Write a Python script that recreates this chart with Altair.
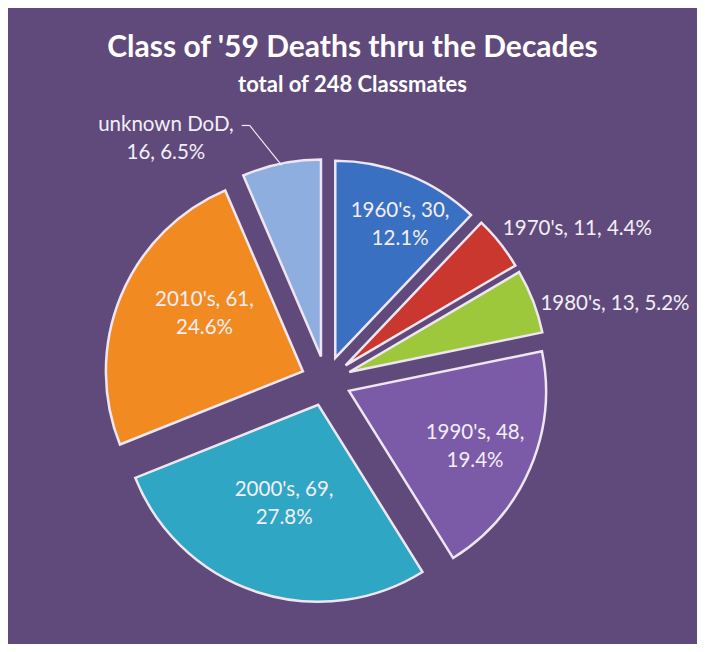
import altair as alt
import pandas as pd

# ---- data ----
categories = ["1960's", "1970's", "1980's", "1990's", "2000's", "2010's", "unknown DoD"]
counts = [30, 11, 13, 48, 69, 61, 16]
colors = ["#3a70c2", "#c9372f", "#9ec83c", "#7b5aa8", "#2ea6c4", "#f28a22", "#8eaee0"]

# ---- label layout (offsets from each exploded slice centre) ----
label_r = [148, 208, 203, 138, 105, 114, 267]
label_dtheta = [4.2, -2.4, 1.35, 0.8, 0.8, 7.8, -23.9]
label_align = ["center", "left", "left", "center", "center", "center", "center"]
label_break = ["num", "none", "none", "num", "num", "num", "cat"]

W, H = 689, 636
PAD_TOP = 25
CX, CY = 318, 285   # pie centre inside the plot area
R = 197
EXPLODE = 25
LINE_H = 28
BG = "#5f4a7b"
TXT = "#f4eef7"
FONT = "Lato"

df = pd.DataFrame({
    "cat": categories,
    "n": counts,
    "order": list(range(len(categories))),
    "color": colors,
    "lr": label_r,
    "ldt": label_dtheta,
    "align": label_align,
    "brk": label_break,
})

base = (
    alt.Chart(df)
    .transform_joinaggregate(total="sum(n)")
    .transform_window(cum="sum(n)", sort=[alt.SortField("order")], frame=[None, 0])
    .transform_calculate(
        a0="2*PI*(datum.cum-datum.n)/datum.total",
        a1="2*PI*datum.cum/datum.total",
    )
    .transform_calculate(mid="(datum.a0+datum.a1)/2")
    .transform_calculate(
        ox=f"{CX}+{EXPLODE}*sin(datum.mid)",
        oy=f"{CY}-{EXPLODE}*cos(datum.mid)",
    )
)

arcs = base.mark_arc(outerRadius=R, stroke="#efe6f2", strokeWidth=2.5).encode(
    x=alt.X("ox:Q", scale=None),
    y=alt.Y("oy:Q", scale=None),
    theta=alt.Theta("a0:Q", scale=None),
    theta2="a1:Q",
    color=alt.Color("color:N", scale=None),
)

lab = (
    base.transform_calculate(
        la="datum.mid + datum.ldt*PI/180",
        pct="format(datum.n/datum.total, '.1%')",
        nl="datum.brk == 'none' ? 1 : 2",
    )
    .transform_calculate(
        lx="datum.ox + datum.lr*sin(datum.la)",
        ly=f"datum.oy - datum.lr*cos(datum.la) - (datum.nl-1)*{LINE_H}/2",
        txt=(
            "datum.brk == 'num' ? datum.cat + ', ' + datum.n + ',\\n' + datum.pct : "
            "datum.brk == 'cat' ? datum.cat + ',\\n' + datum.n + ', ' + datum.pct : "
            "datum.cat + ', ' + datum.n + ', ' + datum.pct"
        ),
    )
)

def text_layer(align):
    return lab.transform_filter(f"datum.align == '{align}'").mark_text(
        align=align, baseline="middle", font=FONT, fontSize=20.5, color=TXT,
        lineBreak="\n", lineHeight=LINE_H,
    ).encode(
        x=alt.X("lx:Q", scale=None),
        y=alt.Y("ly:Q", scale=None),
        text="txt:N",
    )

labels_c = text_layer("center")
labels_l = text_layer("left")

# leader line for the "unknown DoD" label
lead = (
    base.transform_filter("datum.order == 6")
    .transform_calculate(
        ex=f"datum.ox + {R}*0.99*sin(datum.mid)",
        ey=f"datum.oy - {R}*0.99*cos(datum.mid)",
    )
    .transform_calculate(kx="datum.ex - 32", ky="datum.ey - 40")
)
lead1 = lead.mark_rule(color=TXT, strokeWidth=1.2).encode(
    x=alt.X("ex:Q", scale=None), y=alt.Y("ey:Q", scale=None),
    x2="kx:Q", y2="ky:Q",
)
lead2 = lead.transform_calculate(dx="datum.kx - 8").mark_rule(color=TXT, strokeWidth=1.2).encode(
    x=alt.X("kx:Q", scale=None), y=alt.Y("ky:Q", scale=None),
    x2="dx:Q", y2="ky:Q",
)

chart = (
    alt.layer(arcs, lead1, lead2, labels_c, labels_l)
    .properties(
        width=W,
        height=H,
        autosize=alt.AutoSizeParams(type="fit", contains="padding"),
        padding={"top": PAD_TOP, "left": 0, "right": 0, "bottom": 0},
        background=BG,
        title=alt.TitleParams(
            "Class of '59 Deaths thru the Decades",
            subtitle=f"total of {sum(counts)} Classmates",
            font=FONT, fontSize=30, fontWeight="bold", color="#ffffff",
            subtitleFont=FONT, subtitleFontSize=22, subtitleFontWeight="bold",
            subtitleColor="#ffffff", anchor="middle", offset=0, subtitlePadding=12,
        ),
    )
    .configure_view(stroke=None)
)

chart.save("out.html", embed_options={"renderer": "svg", "actions": False})
